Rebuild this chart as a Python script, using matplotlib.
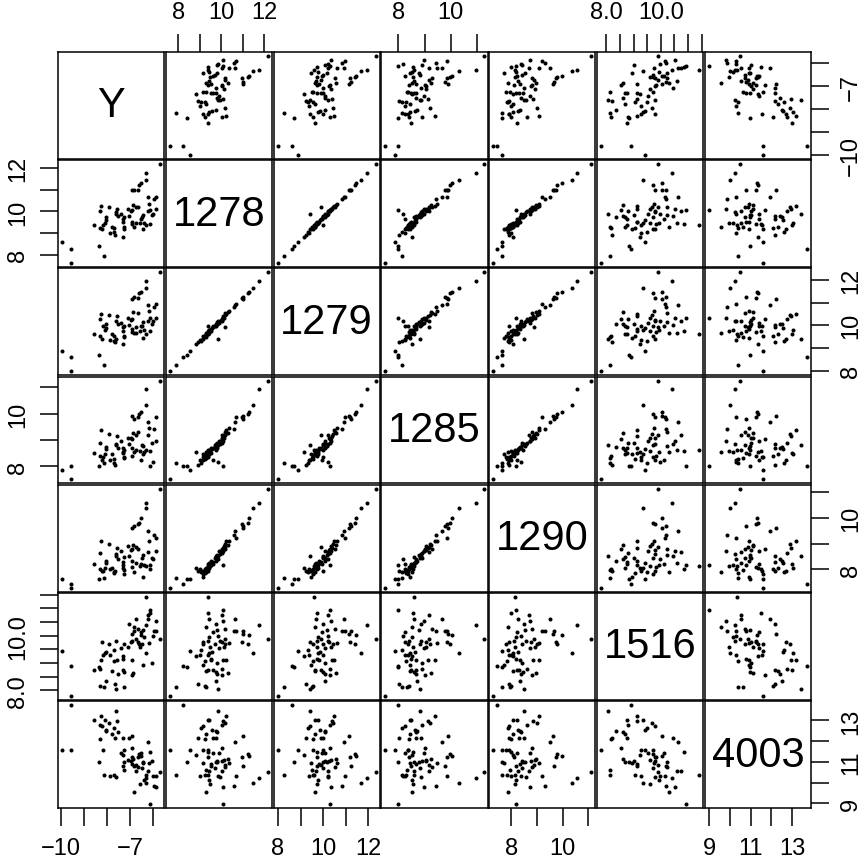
import matplotlib.pyplot as plt

plt.rcParams['font.family'] = ['Liberation Sans', 'DejaVu Sans']

# variable names shown on the diagonal
names = ['Y', '1278', '1279', '1285', '1290', '1516', '4003']

y_vals = [-9.97, -9.57, -9.57, -8.59, -8.37, -8.33, -8.33, -8.29, -8.22, -8.19,
          -8.16, -8.12, -8.07, -8.05, -7.93, -7.88, -7.79, -7.69, -7.69, -7.66,
          -7.62, -7.62, -7.58, -7.52, -7.41, -7.34, -7.31, -7.31, -7.29, -7.26,
          -7.26, -7.12, -7.08, -6.98, -6.95, -6.94, -6.91, -6.91, -6.87, -6.85,
          -6.84, -6.77, -6.74, -6.65, -6.65, -6.62, -6.60, -6.55, -6.55, -6.51,
          -6.45, -6.44, -6.41, -6.34, -6.31, -6.31, -6.23, -6.23, -6.20, -6.16,
          -6.13, -6.08, -6.03, -5.99, -5.91, -5.89, -5.70]

v1278 = [8.56, 8.25, 7.61, 9.37, 8.42, 10.02, 9.24, 10.24, 9.17, 9.37,
         7.92, 9.44, 9.59, 9.75, 10.20, 9.01, 9.29, 9.24, 9.06, 8.91,
         9.95, 9.87, 10.10, 9.79, 9.90, 8.83, 9.64, 9.52, 9.75, 9.29,
         9.17, 10.13, 9.78, 10.02, 9.40, 10.05, 11.00, 9.52, 10.31, 9.29,
         11.01, 9.44, 10.20, 10.98, 10.20, 11.24, 9.47, 11.30, 9.63, 9.72,
         9.82, 9.17, 9.44, 11.47, 11.78, 9.37, 10.66, 10.02, 10.36, 9.40,
         10.08, 9.82, 9.87, 10.59, 10.69, 10.10, 12.19]

v1279 = [8.88, 8.60, 7.98, 9.62, 8.70, 10.29, 9.55, 10.48, 9.40, 9.97,
         8.27, 9.78, 9.87, 10.06, 10.44, 9.35, 9.63, 9.54, 9.31, 9.26,
         10.20, 9.40, 10.39, 10.06, 10.10, 9.17, 9.92, 9.73, 9.97, 9.50,
         9.54, 10.34, 10.01, 10.25, 9.72, 10.29, 11.14, 9.82, 10.58, 9.64,
         11.23, 9.68, 9.92, 11.19, 10.52, 11.42, 9.74, 11.47, 9.96, 9.97,
         10.16, 9.45, 9.78, 11.66, 11.94, 9.60, 10.91, 10.21, 10.62, 9.73,
         10.30, 10.06, 10.20, 10.81, 10.95, 10.34, 12.33]

v1285 = [7.87, 8.00, 7.50, 8.49, 8.00, 8.89, 8.40, 9.38, 8.24, 8.36,
         8.12, 8.45, 8.65, 8.73, 9.22, 8.24, 8.45, 8.28, 8.12, 8.04,
         8.85, 8.81, 9.14, 8.69, 8.97, 8.53, 8.69, 8.49, 8.61, 8.32,
         8.36, 9.06, 8.85, 9.06, 8.40, 9.02, 9.91, 8.69, 9.26, 8.53,
         9.79, 8.61, 9.18, 9.87, 9.30, 9.99, 8.57, 10.06, 8.24, 8.81,
         8.77, 8.45, 8.53, 10.32, 10.95, 8.61, 9.67, 9.18, 9.46, 8.57,
         8.00, 8.89, 8.16, 9.42, 9.87, 8.97, 11.26]

v1290 = [7.63, 7.43, 7.29, 8.21, 7.63, 8.62, 8.00, 9.08, 7.92, 7.92,
         7.65, 8.05, 8.25, 8.33, 9.00, 8.00, 8.05, 7.84, 7.88, 7.92,
         8.58, 8.50, 8.83, 8.38, 8.71, 8.05, 8.29, 8.17, 8.46, 7.96,
         7.80, 8.91, 8.50, 8.75, 8.09, 8.79, 9.62, 8.33, 8.95, 7.88,
         9.66, 8.25, 8.87, 9.74, 8.79, 9.78, 8.13, 9.99, 8.21, 8.42,
         8.54, 7.71, 8.17, 10.36, 10.57, 8.13, 9.49, 8.67, 9.08, 8.00,
         8.17, 8.42, 8.38, 9.33, 9.20, 8.71, 11.12]

v1516 = [9.43, 8.90, 7.80, 8.75, 8.84, 8.78, 8.16, 9.11, 9.77, 9.29,
         8.13, 9.35, 9.41, 8.36, 9.68, 9.29, 8.69, 9.07, 9.49, 8.22,
         9.80, 8.06, 9.11, 8.60, 9.53, 9.25, 8.75, 9.13, 8.67, 8.14,
         9.71, 9.59, 10.44, 9.77, 9.82, 8.55, 10.06, 9.11, 8.63, 10.30,
         10.18, 10.60, 9.88, 9.77, 10.24, 9.71, 9.59, 10.04, 10.12, 9.71,
         10.22, 8.93, 9.94, 9.35, 10.40, 11.41, 10.62, 10.74, 9.74, 10.84,
         10.93, 9.01, 9.97, 10.18, 10.16, 10.52, 9.88]

v4003 = [11.58, 13.73, 11.58, 13.00, 10.98, 12.76, 12.08, 13.21, 12.72, 11.55,
         10.39, 13.03, 12.56, 12.50, 12.89, 10.31, 12.34, 10.39, 12.61, 12.16,
         10.26, 13.43, 12.97, 12.42, 11.42, 11.34, 12.16, 10.79, 10.99, 10.63,
         11.58, 11.10, 12.16, 11.02, 11.26, 11.69, 12.24, 10.90, 11.13, 9.55,
         10.79, 10.55, 10.86, 11.26, 10.74, 11.37, 9.95, 11.29, 11.42, 10.71,
         10.98, 10.94, 10.15, 9.99, 10.23, 10.36, 11.94, 10.55, 10.94, 11.50,
         8.97, 11.02, 10.31, 9.84, 10.31, 9.80, 10.50]

# axis ticks and which of them carry a label
ticks = [[-10, -9, -8, -7, -6],
         [8, 9, 10, 11, 12],
         [8, 9, 10, 11, 12],
         [8, 9, 10, 11],
         [8, 9, 10, 11],
         [8.0, 8.5, 9.0, 9.5, 10.0, 10.5, 11.0, 11.5],
         [9, 10, 11, 12, 13]]
tick_labels = [['\u221210', '', '', '\u22127', ''],
               ['8', '', '10', '', '12'],
               ['8', '', '10', '', '12'],
               ['8', '', '10', ''],
               ['8', '', '10', ''],
               ['8.0', '', '', '', '10.0', '', '', ''],
               ['9', '', '11', '', '13']]

cols = [y_vals, v1278, v1279, v1285, v1290, v1516, v4003]
n = len(cols)

W, H = 866, 862
left, right, top, bottom = 58, 811, 53, 809
gap = 1.5
pw = (right - left - gap * (n - 1)) / n
ph = (bottom - top - gap * (n - 1)) / n
lw = 1.1

fig = plt.figure(figsize=(W / 100, H / 100), dpi=100)


def lims(v):
    lo, hi = min(v), max(v)
    pad = 0.04 * (hi - lo)
    return lo - pad, hi + pad


for i in range(n):
    for j in range(n):
        x0 = left + j * (pw + gap)
        y0 = top + i * (ph + gap)
        ax = fig.add_axes([x0 / W, 1 - (y0 + ph) / H, pw / W, ph / H])
        ax.set_xlim(lims(cols[j]))
        ax.set_ylim(lims(cols[i]))
        if i == j:
            ax.text(0.5, 0.5, names[i], transform=ax.transAxes,
                    ha='center', va='center', fontsize=30)
        else:
            ax.plot(cols[j], cols[i], 'o', ms=2.9, color='black', mec='none')
        for sp in ax.spines.values():
            sp.set_linewidth(lw)
        ax.set_xticks([])
        ax.set_yticks([])

        # R pairs style: alternate the sides that carry axes
        if i == 0 and j % 2 == 1:
            ax.set_xticks(ticks[j], tick_labels[j])
            ax.xaxis.set_ticks_position('top')
            ax.tick_params(axis='x', top=True, bottom=False, labeltop=True,
                           labelbottom=False, length=13, width=lw, pad=8, labelsize=17)
        if i == n - 1 and j % 2 == 0:
            ax.set_xticks(ticks[j], tick_labels[j])
            ax.tick_params(axis='x', length=13, width=lw, pad=8, labelsize=17)
        if j == 0 and i % 2 == 1:
            ax.set_yticks(ticks[i], tick_labels[i])
            ax.tick_params(axis='y', length=13, width=lw, pad=8, labelsize=17,
                           labelrotation=90)
            for lab in ax.get_yticklabels():
                lab.set_va('center')
        if j == n - 1 and i % 2 == 0:
            ax.set_yticks(ticks[i], tick_labels[i])
            ax.yaxis.set_ticks_position('right')
            ax.tick_params(axis='y', left=False, right=True, labelleft=False,
                           labelright=True, length=13, width=lw, pad=8,
                           labelsize=17, labelrotation=90)
            for lab in ax.get_yticklabels():
                lab.set_va('center')

fig.savefig('out.png', dpi=100)
